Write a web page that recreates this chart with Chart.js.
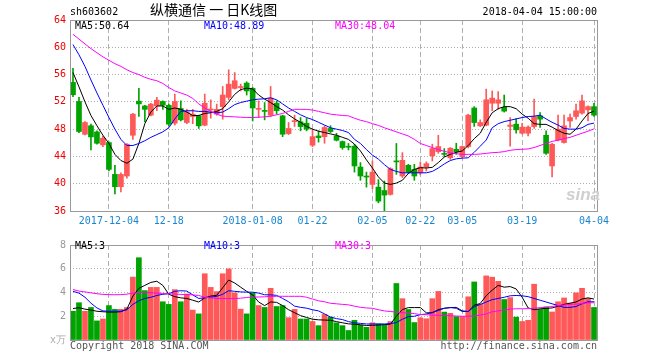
<!DOCTYPE html>
<html><head><meta charset="utf-8">
<script src="https://cdn.jsdelivr.net/npm/chart.js@4.4.1/dist/chart.umd.min.js"></script>
<style>
html,body{margin:0;padding:0;background:#fff;}
#wrap{position:relative;width:660px;height:360px;overflow:hidden;font-family:'DejaVu Sans Mono',monospace;font-size:10px;}
canvas{position:absolute;left:0;}
.t{position:absolute;white-space:nowrap;line-height:10px;font-size:10px;}
</style></head><body>
<div id="wrap">
<canvas id="k" width="660" height="235" style="top:0;width:660px;height:235px"></canvas>
<canvas id="v" width="660" height="125" style="top:235px;width:660px;height:125px"></canvas>
<div class="t" style="left:70px;top:7px;color:#000">sh603602</div>
<div class="t" style="left:150px;top:1px;color:#000;font-family:'Noto Sans CJK SC',sans-serif;font-size:14px;line-height:17px">纵横通信 一 日K线图</div>
<div class="t" style="right:63px;top:7px;color:#000">2018-04-04 15:00:00</div>
<div class="t" style="left:75px;top:21px;color:#000">MA5:50.64</div>
<div class="t" style="left:204px;top:21px;color:#0000ff">MA10:48.89</div>
<div class="t" style="left:335px;top:21px;color:#ff00ff">MA30:48.04</div>
<div class="t" style="left:566px;top:186px;color:#cfcfcf;font-family:'Liberation Sans',sans-serif;font-style:italic;font-weight:bold;font-size:17px;line-height:18px">sina</div>
<div class="t" style="left:75px;top:241px;color:#000">MA5:3</div>
<div class="t" style="left:204px;top:241px;color:#0000ff">MA10:3</div>
<div class="t" style="left:335px;top:241px;color:#ff00ff">MA30:3</div>
<div class="t" style="left:50px;top:335px;color:#aaa">x万</div>
<div class="t" style="left:70px;top:341px;color:#555">Copyright 2018 SINA.COM</div>
<div class="t" style="right:63px;top:341px;color:#555">http://finance.sina.com.cn</div>
</div>
<script>
const dates = ['2017-11-24','2017-11-27','2017-11-28','2017-11-29','2017-11-30','2017-12-01',
'2017-12-04','2017-12-05','2017-12-06','2017-12-07','2017-12-08','2017-12-11','2017-12-12','2017-12-13','2017-12-14','2017-12-15',
'2017-12-18','2017-12-19','2017-12-20','2017-12-21','2017-12-22','2017-12-25','2017-12-26','2017-12-27','2017-12-28','2017-12-29',
'2018-01-02','2018-01-03','2018-01-04','2018-01-05','2018-01-08','2018-01-09','2018-01-10','2018-01-11','2018-01-12',
'2018-01-15','2018-01-16','2018-01-17','2018-01-18','2018-01-19','2018-01-22','2018-01-23','2018-01-24','2018-01-25','2018-01-26',
'2018-01-29','2018-01-30','2018-01-31','2018-02-01','2018-02-02','2018-02-05','2018-02-06','2018-02-07','2018-02-08','2018-02-09',
'2018-02-12','2018-02-13','2018-02-14','2018-02-22','2018-02-23','2018-02-26','2018-02-27','2018-02-28','2018-03-01','2018-03-02',
'2018-03-05','2018-03-06','2018-03-07','2018-03-08','2018-03-09','2018-03-12','2018-03-13','2018-03-14','2018-03-15','2018-03-16',
'2018-03-19','2018-03-20','2018-03-21','2018-03-22','2018-03-23','2018-03-26','2018-03-27','2018-03-28','2018-03-29','2018-03-30',
'2018-04-02','2018-04-03','2018-04-04'];
const tickDates = ['2017-12-04','2017-12-18','2018-01-08','2018-01-22','2018-02-05','2018-02-22','2018-03-05','2018-03-19','2018-04-04'];
const tickTexts = ['2017-12-04','12-18','2018-01-08','01-22','02-05','02-22','03-05','03-19','04-04'];
const priceTicks = [36,40,44,48,52,56,60,64];
const volTicks = [0,2,4,6,8];

const opens = [54.85,52.06,47.25,48.5,47.6,45.7,46.03,41.37,39.56,41.13, 47.1,52.1,51.4,50.05,51.4,52.06,51.5,48.87,51.03,48.97, 49.85,49.95,48.58,50.8,50.2,51.3,52.65,53.97,54.1,54.75, 53.97,50.9,50.75,50.05,51.8,49.95,47.35,49.1,49.07,48.87, 45.64,47.0,46.9,48.1,47.0,46.18,45.45,45.5,42.45,41.0, 39.9,39.5,39.0,38.43,43.25,41.13,42.7,42.1,41.6,42.45, 44.1,44.7,44.4,43.8,45.05,43.97,45.45,51.1,48.48,48.58, 51.8,51.8,51.2,48.4,48.73,47.4,47.4,48.38,49.95,47.1, 42.6,46.4,46.03,49.2,49.85,50.35,50.83,51.3];
const closes = [53.04,47.65,48.97,46.86,45.93,46.67,42.1,39.56,41.37,45.78, 50.2,51.7,50.9,51.67,52.25,51.5,48.73,52.06,49.36,50.54, 50.2,48.48,51.8,50.9,50.9,53.0,54.6,55.1,54.2,53.6, 51.1,51.0,50.6,52.55,50.7,47.25,48.1,49.2,48.38,48.0, 46.9,46.76,48.24,47.65,46.37,45.3,45.35,42.6,41.13,40.98, 41.7,37.45,38.33,42.2,43.2,43.43,41.7,41.13,42.45,42.94, 45.15,45.45,44.3,45.2,44.66,45.45,50.05,48.97,48.97,52.3, 52.55,52.3,50.64,48.6,47.9,48.3,48.3,49.85,49.46,44.46, 45.78,48.0,48.48,49.7,50.7,52.15,51.3,50.05];
const highs = [56.9,52.65,49.1,48.73,47.75,47.0,46.13,42.7,41.6,45.9, 50.3,54.0,51.5,51.8,52.65,52.15,51.67,53.14,52.15,50.9, 50.9,50.05,53.14,52.3,51.67,54.26,56.7,56.3,54.6,54.95, 54.1,52.15,51.9,54.26,52.15,50.05,48.97,50.05,49.7,49.56, 48.0,47.75,48.5,48.5,47.4,46.27,45.9,45.78,43.1,41.7, 43.33,40.6,40.4,42.35,45.9,44.56,42.84,42.84,43.2,43.2, 45.8,47.1,45.15,45.3,45.93,45.54,50.2,51.3,49.36,53.87, 53.6,53.5,53.0,49.7,49.56,48.87,48.5,52.4,50.44,47.75, 45.93,50.05,50.05,50.2,51.67,53.0,51.4,51.8];
const lows = [52.75,47.5,47.15,44.95,45.8,45.44,41.86,38.5,38.8,40.8, 46.5,49.85,49.07,49.95,50.7,50.9,48.48,48.6,49.2,48.8, 48.8,48.1,48.48,49.6,50.05,49.46,52.3,53.87,53.6,53.0, 49.2,49.7,49.36,49.85,50.2,46.9,47.2,48.4,47.75,47.75, 45.44,46.1,45.93,47.5,46.27,45.05,44.95,41.7,40.5,39.5, 39.26,37.2,36.0,38.33,41.37,40.9,41.5,40.5,41.3,41.86, 43.33,44.46,43.97,43.57,44.3,43.8,45.25,48.4,48.38,48.48, 50.7,50.93,50.5,45.5,47.4,47.25,47.0,48.1,48.24,44.3, 41.0,46.27,45.93,48.24,49.46,50.2,49.2,49.85];
const ma5 = [56.3,54.2,52.0,50.0,48.5,47.1,45.9,44.3,43.4,43.0, 43.6,45.9,48.8,50.5,51.4,51.4,50.9,51.1,50.9,50.5, 50.0,50.0,50.3,50.4,50.6,51.0,52.0,53.1,53.8,54.0, 53.9,53.0,52.4,51.9,51.3,50.8,50.1,49.5,49.0,48.4, 48.0,47.7,47.5,47.3,47.1,46.8,46.5,45.8,44.8,43.5, 42.3,41.0,40.1,39.9,40.1,40.5,41.5,42.1,42.35,42.3, 42.4,43.1,43.9,44.3,44.6,44.8,45.6,46.6,47.4,49.0, 50.4,51.0,51.3,51.3,51.0,50.2,49.6,48.8,48.7,48.7, 48.3,47.8,47.4,47.25,48.0,49.2,50.3,50.64];
const ma10 = [60.4,58.9,57.2,55.2,53.3,51.5,49.7,48.0,46.5,45.6, 45.6,45.9,46.3,46.8,47.2,47.6,48.2,49.5,50.6,50.7, 50.7,50.6,50.6,50.5,50.4,50.5,51.0,51.6,51.9,52.1, 52.3,52.4,52.45,52.6,52.3,51.7,51.1,50.6,50.1,49.7, 49.4,49.0,48.6,48.2,48.0,47.8,47.5,46.5,45.9,45.0, 44.2,43.6,42.8,42.1,41.8,41.6,41.6,41.6,41.6,41.6, 41.8,42.3,42.9,43.4,43.65,43.75,43.8,44.6,45.5,46.4, 48.2,48.8,49.1,49.3,49.5,49.7,49.85,49.9,50.05,49.5, 49.0,48.6,48.1,48.0,48.0,48.2,48.7,48.89];
const ma30 = [61.9,61.2,60.5,59.8,59.2,58.6,58.1,57.6,57.2,56.7, 56.3,56.0,55.6,55.3,55.1,54.7,54.1,53.6,53.3,53.0, 52.5,51.7,51.1,50.6,50.2,49.9,49.85,49.8,49.75,49.7, 49.7,49.75,49.8,49.9,50.1,50.3,50.6,50.9,50.9,50.9, 50.8,50.6,50.4,50.2,50.1,50.0,49.95,49.6,49.3,49.1, 48.8,48.55,48.2,47.9,47.6,47.3,47.0,46.5,45.9,45.6, 45.3,45.0,44.75,44.55,44.4,44.3,44.3,44.3,44.35,44.45, 44.55,44.6,44.7,44.9,45.0,45.05,45.1,45.3,45.6,45.9, 46.2,46.4,46.6,46.8,47.1,47.4,47.7,48.04];
const volumes = [2.42,3.14,2.42,2.74,1.61,1.77,2.9,2.58,2.58,2.74, 5.3,6.93,4.16,4.43,4.43,3.22,3.0,4.24,3.22,3.87, 2.52,2.2,5.58,4.43,4.08,5.58,5.99,3.97,2.6,2.2, 3.97,2.9,2.74,4.35,2.82,2.9,1.88,2.58,1.77,1.77, 1.56,1.21,2.15,1.93,1.45,1.21,0.8,1.66,1.26,1.07, 1.45,1.35,1.28,1.55,4.76,3.48,2.57,1.47,1.87,1.79, 3.48,4.09,2.35,2.25,1.97,1.97,3.64,4.89,3.0,5.4, 5.29,4.94,3.41,3.57,1.93,1.56,1.66,4.7,2.58,2.79, 2.36,3.22,3.54,3.11,3.97,4.35,3.49,2.74];
const vma5 = [2.65,2.72,2.6,2.52,2.42,2.38,2.35,2.35,2.38,2.6, 3.7,4.35,4.6,4.85,4.95,4.6,3.85,3.65,3.55,3.5, 3.35,3.2,3.55,3.7,3.76,4.4,5.05,4.8,4.45,4.1, 3.8,3.2,2.9,3.2,3.17,2.9,2.55,2.3,2.05,1.9, 1.75,1.7,1.68,1.66,1.55,1.45,1.36,1.33,1.28,1.22, 1.24,1.26,1.3,1.33,2.0,2.56,2.73,2.73,2.73,2.29, 2.29,2.56,2.67,2.73,2.75,2.45,2.4,2.93,3.07,3.73, 4.2,4.6,4.45,4.5,4.3,3.6,2.7,2.55,2.63,2.66, 2.7,2.85,3.0,3.1,3.2,3.45,3.55,3.45];
const vma10 = [4.1,3.95,3.6,3.1,2.7,2.45,2.42,2.42,2.42,2.55, 3.0,3.3,3.5,3.6,3.75,3.85,3.9,4.1,4.15,4.12, 3.8,3.5,3.55,3.6,3.68,3.85,4.15,4.1,4.05,4.03, 4.03,3.95,3.81,3.8,3.76,3.5,3.22,2.85,2.75,2.68, 2.55,2.45,2.2,1.93,1.8,1.72,1.55,1.45,1.4,1.35, 1.35,1.35,1.35,1.38,1.47,1.75,1.97,2.0,2.13,2.19, 2.32,2.48,2.67,2.73,2.67,2.4,2.4,2.8,2.99,3.2, 3.4,3.5,3.6,3.72,3.75,3.72,3.65,3.5,3.35,3.2, 3.05,2.9,2.75,2.75,2.82,3.05,3.22,3.22];
const vma30 = [4.25,4.12,4.05,3.97,3.9,3.84,3.82,3.81,3.82,3.86, 3.95,4.0,4.02,3.98,3.95,3.92,3.89,3.86,3.84,3.83, 3.8,3.75,3.6,3.55,3.5,3.49,3.49,3.49,3.52,3.58, 3.62,3.62,3.64,3.67,3.68,3.68,3.68,3.68,3.68,3.6, 3.45,3.3,3.22,3.09,3.05,3.0,2.96,2.85,2.75,2.7, 2.67,2.55,2.45,2.4,2.35,2.3,2.27,2.22,2.15,2.13, 2.1,2.08,2.07,2.05,2.02,2.0,2.0,2.02,2.1,2.2, 2.38,2.45,2.52,2.6,2.63,2.63,2.64,2.68,2.72,2.76, 2.82,2.9,2.95,3.0,3.02,3.08,3.13,3.14];

const RED = '#ff5858', GREEN = '#00a300';
const upColors = dates.map((d, i) => closes[i] >= opens[i] ? RED : GREEN);
const tickIdx = new Map(tickDates.map((d, k) => [dates.indexOf(d), tickTexts[k]]));
const FONT = {family: "'DejaVu Sans Mono', monospace", size: 10};
const GRID = '#b0b0b0', FRAME = '#999999';

const frame = {
  id: 'frame',
  afterDraw(chart) {
    const {ctx, chartArea: a} = chart;
    ctx.save();
    ctx.strokeStyle = FRAME; ctx.lineWidth = 1; ctx.setLineDash([]);
    const l = Math.floor(a.left) + 0.5, r = Math.floor(a.right) + 0.5;
    const t = Math.floor(a.top) + 0.5, b = Math.floor(a.bottom) + 0.5;
    ctx.strokeRect(l, t, r - l, b - t);
    ctx.restore();
  }
};

function xScale(showLabels, h) {
  return {
    type: 'category', offset: true,
    grid: {offset: false, drawTicks: false, lineWidth: 1,
      color: c => tickIdx.has(c.index) ? GRID : 'rgba(0,0,0,0)'},
    border: {display: false, dash: [5, 3]},
    ticks: {display: showLabels, autoSkip: false, maxRotation: 0, minRotation: 0, padding: 4,
      color: '#1a86d0', font: FONT, callback: (v, i) => tickIdx.has(i) ? tickIdx.get(i) : ''},
    afterFit: s => { s.height = h; }
  };
}
function lineDs(data, color) {
  return {type: 'line', data, borderColor: color, borderWidth: 1, pointRadius: 0, tension: 0, fill: false, order: 0};
}

new Chart(document.getElementById('k'), {
  type: 'bar',
  data: {
    labels: dates,
    datasets: [
      {data: dates.map((d, i) => [lows[i], highs[i]]), backgroundColor: upColors, barThickness: 1, grouped: false, order: 2},
      {data: dates.map((d, i) => [opens[i], closes[i]]), backgroundColor: upColors, barThickness: 5, minBarLength: 1, grouped: false, order: 1},
      lineDs(ma30, '#ff00ff'), lineDs(ma10, '#0000ff'), lineDs(ma5, '#000000')
    ]
  },
  options: {
    responsive: false, animation: false, devicePixelRatio: 1,
    layout: {padding: {left: 0, right: 63, top: 20, bottom: 0}},
    plugins: {legend: {display: false}, tooltip: {enabled: false}},
    scales: {
      x: xScale(true, 24),
      y: {min: priceTicks[0], max: priceTicks[priceTicks.length - 1],
        afterBuildTicks: s => { s.ticks = priceTicks.map(v => ({value: v})); },
        grid: {drawTicks: false, color: c => (c.tick && (c.tick.value === 36 || c.tick.value === 64)) ? 'rgba(0,0,0,0)' : GRID},
        border: {display: false, dash: [1, 2]},
        ticks: {color: '#ee0000', font: FONT, padding: 4},
        afterFit: s => { s.width = 70; }}
    }
  },
  plugins: [frame]
});

new Chart(document.getElementById('v'), {
  type: 'bar',
  data: {
    labels: dates,
    datasets: [
      {data: volumes, backgroundColor: upColors, barThickness: 5, grouped: false, order: 1},
      lineDs(vma30, '#ff00ff'), lineDs(vma10, '#0000ff'), lineDs(vma5, '#000000')
    ]
  },
  options: {
    responsive: false, animation: false, devicePixelRatio: 1,
    layout: {padding: {left: 0, right: 63, top: 5, bottom: 20}},
    plugins: {legend: {display: false}, tooltip: {enabled: false}},
    scales: {
      x: xScale(false, 0),
      y: {min: 0, max: 8,
        afterBuildTicks: s => { s.ticks = volTicks.map(v => ({value: v})); },
        grid: {drawTicks: false, color: c => (c.tick && (c.tick.value === 0 || c.tick.value === 8)) ? 'rgba(0,0,0,0)' : GRID},
        border: {display: false, dash: [1, 2]},
        ticks: {color: '#999', font: FONT, padding: 4, callback: v => v === 0 ? '' : String(v)},
        afterFit: s => { s.width = 70; }}
    }
  },
  plugins: [frame]
});
</script>
</body></html>
